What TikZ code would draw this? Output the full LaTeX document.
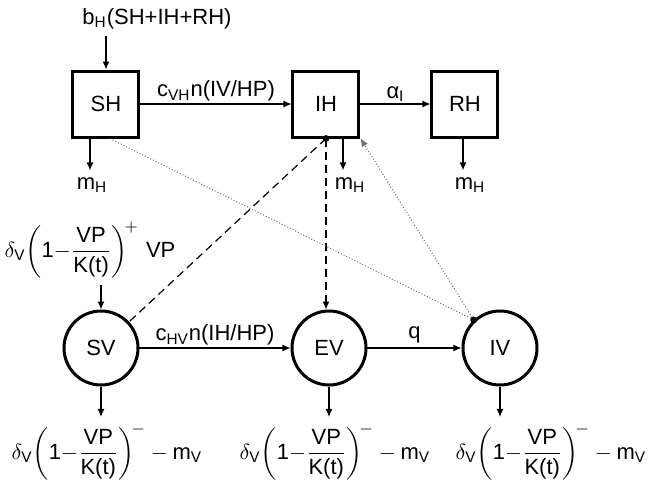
\documentclass[tikz,border=0pt]{standalone}
\usepackage{amsmath}
\usepackage{fontspec}
\setmainfont{Liberation Sans}
\usepackage{tikz}
\usetikzlibrary{arrows.meta, positioning}
\definecolor{linegray}{RGB}{110,110,110}

\newcommand{\vecgrow}{$\delta_{\text{V}}\!\left(\text{1}{-}\dfrac{\text{VP}}{\text{K(t)}}\right)^{\!+}\,\text{VP}$}
\newcommand{\vecdie}{$\delta_{\text{V}}\!\left(\text{1}{-}\dfrac{\text{VP}}{\text{K(t)}}\right)^{\!-} - \text{m}_{\text{V}}$}

\begin{document}
\begin{tikzpicture}[x=0.5pt, y=-0.5pt, font=\fontsize{11}{13}\selectfont,
    hbox/.style={draw, line width=1.5pt, minimum size=33pt, inner sep=0pt},
    vcirc/.style={draw, circle, line width=1.5pt, minimum size=37pt, inner sep=0pt},
    flow/.style={-{Latex[length=4pt, width=3.5pt]}, line width=0.6pt},
    contact/.style={line width=0.6pt, dash pattern=on 4pt off 2.5pt},
    infect/.style={linegray, line width=0.5pt, densely dotted}]
    \useasboundingbox (0,0) rectangle (650,484);
    % hosts
    \node[hbox] (SH) at (106,104) {SH};
    \node[hbox] (IH) at (326,104) {IH};
    \node[hbox] (RH) at (465,104) {RH};
    \node (birth) at (157,19) {b\textsubscript{H}(SH+IH+RH)};
    \node (mSH) at (92,185) {m\textsubscript{H}};
    \node (mIH) at (350,185) {m\textsubscript{H}};
    \node (mRH) at (470,185) {m\textsubscript{H}};
    % vectors
    \node[vcirc] (SV) at (101,348) {SV};
    \node[vcirc] (EV) at (329,348) {EV};
    \node[vcirc] (IV) at (500,348) {IV};
    \node (grow) at (90,250) {\vecgrow};
    \node (dSV) at (107,452) {\vecdie};
    \node (dEV) at (335,452) {\vecdie};
    \node (dIV) at (551,452) {\vecdie};

    \draw[flow] (birth.south -| SH.north) -- (SH.north);
    \draw[flow] (SH) -- node[above, inner sep=1pt] {c\textsubscript{VH}n(IV/HP)} (IH);
    \draw[flow] (IH) -- node[above, inner sep=1pt] {α\textsubscript{I}} (RH);
    \draw[flow] ([xshift=-1pt]mSH.north |- SH.south) -- ([xshift=-1pt]mSH.north);
    \draw[flow] ([xshift=-3.5pt]mIH.north |- IH.south) -- ([xshift=-3.5pt]mIH.north);
    \draw[flow] ([xshift=-3.5pt]mRH.north |- RH.south) -- ([xshift=-3.5pt]mRH.north);

    \draw[flow] (SV.north |- grow.south) -- (SV.north);
    \draw[flow] (SV) -- node[above, inner sep=1pt] {c\textsubscript{HV}n(IH/HP)} (EV);
    \draw[flow] (EV) -- node[above, inner sep=2pt] {q} (IV);
    \draw[flow] (SV.south) -- (SV.south |- dSV.north);
    \draw[flow] (EV.south) -- (EV.south |- dEV.north);
    \draw[flow] (IV.south) -- (IV.south |- dIV.north);

    % transmission
    \draw[contact] (IH.south) -- (SV);
    \draw[contact, flow] (IH.south) -- (IH.south |- EV.north);
    \draw[infect] ([xshift=2pt]SH.south) -- (IV.133);
    \draw[infect, -{Latex[length=4pt, width=3.5pt]}] (IV.133) -- (IH.south east);
    \fill (IH.south) circle (1.7pt);
    \fill (IV.133) circle (1.7pt);
\end{tikzpicture}
\end{document}
